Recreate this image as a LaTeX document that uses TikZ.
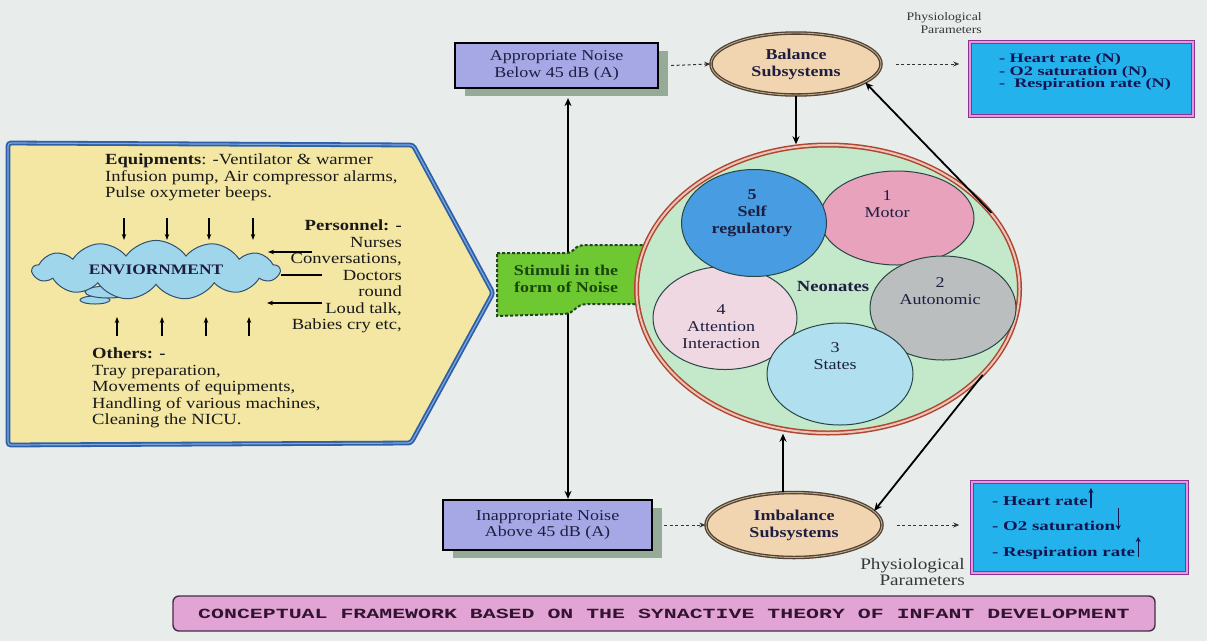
\documentclass[tikz,border=0pt]{standalone}
\usepackage{fontspec}
\setmainfont{Liberation Serif}[FakeStretch=1.2]
\newfontfamily\widefont{Liberation Serif}[FakeStretch=1.4]
\newfontfamily\titlefont{Liberation Mono}[FakeStretch=1.54]
\usetikzlibrary{shapes.geometric,shapes.symbols,shadows,arrows.meta,calc}
\definecolor{bgc}{RGB}{232,236,235}
\definecolor{envfill}{RGB}{243,231,163}
\definecolor{envline}{RGB}{45,95,170}
\definecolor{envinner}{RGB}{125,168,215}
\definecolor{cloudfill}{RGB}{160,214,236}
\definecolor{cloudline}{RGB}{50,80,110}
\definecolor{lavc}{RGB}{166,168,230}
\definecolor{shadc}{RGB}{150,170,152}
\definecolor{navytxt}{RGB}{30,30,65}
\definecolor{peach}{RGB}{241,212,176}
\definecolor{ellline}{RGB}{80,65,50}
\definecolor{ellinner}{RGB}{190,170,140}
\definecolor{ringred}{RGB}{175,70,50}
\definecolor{ringlight}{RGB}{236,196,184}
\definecolor{neofill}{RGB}{196,232,202}
\definecolor{cblue}{RGB}{72,156,226}
\definecolor{cpink}{RGB}{232,162,188}
\definecolor{cgrey}{RGB}{186,190,190}
\definecolor{clpink}{RGB}{240,216,226}
\definecolor{clcyan}{RGB}{176,224,240}
\definecolor{cline}{RGB}{40,70,70}
\definecolor{stimfill}{RGB}{110,200,50}
\definecolor{stimline}{RGB}{35,70,30}
\definecolor{stimtxt}{RGB}{25,70,15}
\definecolor{boxcyan}{RGB}{35,178,235}
\definecolor{boxpurple}{RGB}{140,50,150}
\definecolor{boxpink}{RGB}{230,150,220}
\definecolor{boxtxt}{RGB}{20,20,80}
\definecolor{titlefill}{RGB}{226,164,212}
\definecolor{titleline}{RGB}{70,45,70}
\definecolor{titletxt}{RGB}{50,20,50}
\definecolor{greytxt}{RGB}{55,55,55}
\newcommand\myfs[2]{\fontsize{#1}{#2}\selectfont}
\begin{document}
\begin{tikzpicture}[x=1pt,y=-1pt,
  envshape/.style={draw=envline, line width=1.8pt, double=envinner, double distance=1.2pt, fill=envfill, rounded corners=3pt},
  lefttext/.style={inner sep=0pt, align=left, text=black!90, font=\myfs{15.5}{16.5}},
  envcloud/.style={cloud, cloud puffs=13, cloud puff arc=110, aspect=5.2, draw=cloudline, line width=1pt, fill=cloudfill, minimum width=247pt, minimum height=48pt, inner sep=0pt, text=navytxt, font=\bfseries\myfs{14.5}{15}},
  puff/.style={draw=cloudline, line width=1pt, fill=cloudfill},
  thinarr/.style={draw=black, line width=1.1pt, -{Stealth[length=6pt,width=4.5pt]}},
  thinline/.style={draw=black, line width=1.1pt},
  arr/.style={draw=black, line width=1.8pt, -{Stealth[length=8pt,width=7pt]}},
  dblarr/.style={draw=black, line width=1.8pt, {Stealth[length=8pt,width=7pt]}-{Stealth[length=8pt,width=7pt]}},
  dasharr/.style={draw=black!80, line width=1pt, dash pattern=on 3pt off 2.5pt, -{Stealth[length=6pt,width=5pt]}},
  noisebox/.style={rectangle, draw=black, line width=2.2pt, fill=lavc, general shadow={fill=shadc, shadow xshift=10pt, shadow yshift=-8pt}, align=center, text=navytxt, font=\myfs{15}{16.5}},
  subsys/.style={ellipse, draw=ellline, line width=1.3pt, double=ellinner, double distance=0.9pt, fill=peach, align=center, text=navytxt, font=\bfseries\myfs{15}{17}, inner sep=0pt},
  neoring/.style={ellipse, draw=ringred, line width=1.5pt, double=ringlight, double distance=2pt, fill=neofill, inner sep=0pt},
  subcirc/.style={ellipse, draw=cline, line width=1pt, inner sep=0pt},
  ctext/.style={align=center, text=navytxt, font=\myfs{15}{17}, inner sep=0pt},
  pbox/.style={rectangle, draw=boxpurple, line width=1.5pt, double=boxpink, double distance=1.5pt, fill=boxcyan},
  ptext/.style={inner sep=0pt, align=left, text=boxtxt, font=\widefont\bfseries\myfs{13}{12.5}},
  ptextb/.style={inner sep=0pt, anchor=base west, text=boxtxt, font=\widefont\bfseries\myfs{13.5}{14}},
  smallarr/.style={draw=boxtxt, line width=1.3pt, -{Stealth[length=5pt,width=5pt]}},
  physlab/.style={inner sep=0pt, align=right, text=greytxt},
  titlebox/.style={rectangle, rounded corners=6pt, draw=titleline, line width=1.4pt, fill=titlefill, text=titletxt, font=\titlefont\bfseries\myfs{14}{14}}
]
\useasboundingbox (0,0) rectangle (1207,641);
\fill[bgc] (0,0) rectangle (1207,641);

% ---------- left environment panel ----------
\draw[envshape] (8,143) -- (413,145) -- (493,293) -- (411,443) -- (8,445) -- cycle;
\node[lefttext, anchor=north west] (equip) at (105,154)
  {\textbf{Equipments}: -Ventilator \& warmer\\Infusion pump, Air compressor alarms,\\Pulse oxymeter beeps.};
\node[lefttext, anchor=north east, align=right] (pers) at (402,220)
  {\textbf{Personnel: -}\\Nurses\\Conversations,\\Doctors\\round\\Loud talk,\\Babies cry etc,};
\node[lefttext, anchor=north west] (oth) at (92,348)
  {\textbf{Others: -}\\Tray preparation,\\Movements of equipments,\\Handling of various machines,\\Cleaning the NICU.};
\draw[puff] (95,300) ellipse [x radius=15, y radius=4];
\draw[puff] (108,292) ellipse [x radius=23, y radius=6];
\node[envcloud] (env) at (156,270) {ENVIORNMENT};

\foreach \x [count=\i] in {124,167,209,253}{
  \coordinate (dn\i) at (\x,218);
  \draw[thinarr] (dn\i) -- (dn\i |- env.north);
}
\foreach \x [count=\i] in {117,162,206,249}{
  \coordinate (up\i) at (\x,336);
  \draw[thinarr] (up\i) -- ++(0,-19);
}
\coordinate (pa1) at (312,252);
\coordinate (pa2) at (322,275);
\coordinate (pa3) at (322,303);
\draw[thinarr] (pa1) -- ++(-44,0);
\draw[thinline] (pa2) -- (pa2 -| env.east);
\draw[thinarr] (pa3) -- ++(-55,0);

% ---------- noise boxes ----------
\node[noisebox, minimum width=203pt, minimum height=45pt] (app) at (556.5,65.5) {Appropriate Noise\\Below 45 dB (A)};
\node[noisebox, minimum width=209pt, minimum height=50pt] (inapp) at (547.5,525) {Inappropriate Noise\\Above 45 dB (A)};
\coordinate (vx) at (568,0);
\coordinate (vtop) at ([yshift=-9pt]app.south);
\draw[dblarr] (vtop -| vx) -- (inapp.north -| vx);

% ---------- stimuli banner ----------
\draw[fill=stimfill, draw=stimline, line width=2pt, dash pattern=on 3pt off 2pt]
  (497,253) -- (566,253) .. controls (576,253) and (572,245) .. (586,245) -- (648,245)
  -- (643,304) -- (588,304) .. controls (574,304) and (576,314) .. (563,314) -- (497,316) -- cycle;
\node[align=center, text=stimtxt, font=\bfseries\myfs{15}{17}, inner sep=0pt] (stim) at (566,279) {Stimuli in the\\form of Noise};

% ---------- neonate circle ----------
\node[neoring, minimum width=383pt, minimum height=288pt] (neo) at (828,289) {};
\node[subcirc, fill=cpink, minimum width=154pt, minimum height=94pt] (m1) at (897,218) {};
\node[subcirc, fill=cgrey, minimum width=146pt, minimum height=104pt] (m2) at (943,308) {};
\node[subcirc, fill=clpink, minimum width=144pt, minimum height=103pt] (m4) at (725,318) {};
\node[subcirc, fill=cblue, minimum width=145pt, minimum height=107pt] (m5) at (754,223) {};
\node[subcirc, fill=clcyan, minimum width=146pt, minimum height=102pt] (m3) at (840,374) {};
\node[ctext] (t1) at (887,204) {1\\Motor};
\node[ctext] (t2) at (940,291) {2\\Autonomic};
\node[ctext] (t4) at (721,327) {4\\Attention\\Interaction};
\node[ctext, font=\bfseries\myfs{15}{17}] (t5) at (752,213) {5\\Self\\regulatory};
\node[ctext] (t3) at (835,356) {3\\States};
\node[ctext, font=\bfseries\myfs{15.5}{17}] (neolab) at (833,286) {Neonates};

% ---------- subsystems ----------
\node[subsys, minimum width=170pt, minimum height=62pt] (bal) at (796,64) {Balance\\Subsystems};
\node[subsys, minimum width=176pt, minimum height=65pt] (imb) at (794,525) {Imbalance\\Subsystems};

\draw[dasharr] ([xshift=12pt]app.east) -- (bal.west);
\draw[dasharr] ([xshift=11pt]inapp.east) -- (imb.west);

\draw[arr] (bal.south) -- (bal.south |- neo.north);
\coordinate (ib) at ([xshift=-11pt]imb.north);
\draw[arr] (ib) -- (ib |- neo.south);
\draw[arr] (neo.25) -- (bal.-15);
\draw[arr] (neo.-29) -- (imb.10);

% ---------- physiological parameter boxes ----------
\node[pbox, minimum width=223pt, minimum height=74pt] (pn) at (1081.5,79) {};
\node[ptext] (pntext) at (1085,72) {- Heart rate (N)\\- O2 saturation (N)\\-\ \ Respiration rate (N)};
\node[physlab, anchor=north east, font=\myfs{11.5}{13.5}] (ph1) at (982,12) {Physiological\\Parameters};
\draw[dasharr] ([xshift=14pt]bal.east) -- ([xshift=-10pt]bal.east -| pn.west);

\node[pbox, minimum width=215pt, minimum height=91pt] (pi) at (1079.5,527.5) {};
\node[ptextb] (hr) at (992,505) {- Heart rate};
\node[ptextb] (o2) at (992,530) {- O2 saturation};
\node[ptextb] (rr) at (992,556) {- Respiration rate};
\draw[smallarr] ([xshift=3pt,yshift=-3pt]hr.base east) -- ++(0,-20);
\draw[smallarr] ([xshift=3pt,yshift=22pt]o2.base east) -- ++(0,22);
\draw[smallarr] ([xshift=3pt,yshift=-1pt]rr.base east) -- ++(0,-20);
\node[physlab, anchor=north east, font=\myfs{16}{16}] (ph2) at (965,558) {Physiological\\Parameters};
\draw[dasharr] ([xshift=14pt]imb.east) -- ([xshift=-12pt]imb.east -| pi.west);

% ---------- title ----------
\node[titlebox, minimum width=982pt, minimum height=35pt] (title) at (664,613.5)
  {CONCEPTUAL FRAMEWORK BASED ON THE SYNACTIVE THEORY OF INFANT DEVELOPMENT};
\end{tikzpicture}
\end{document}
